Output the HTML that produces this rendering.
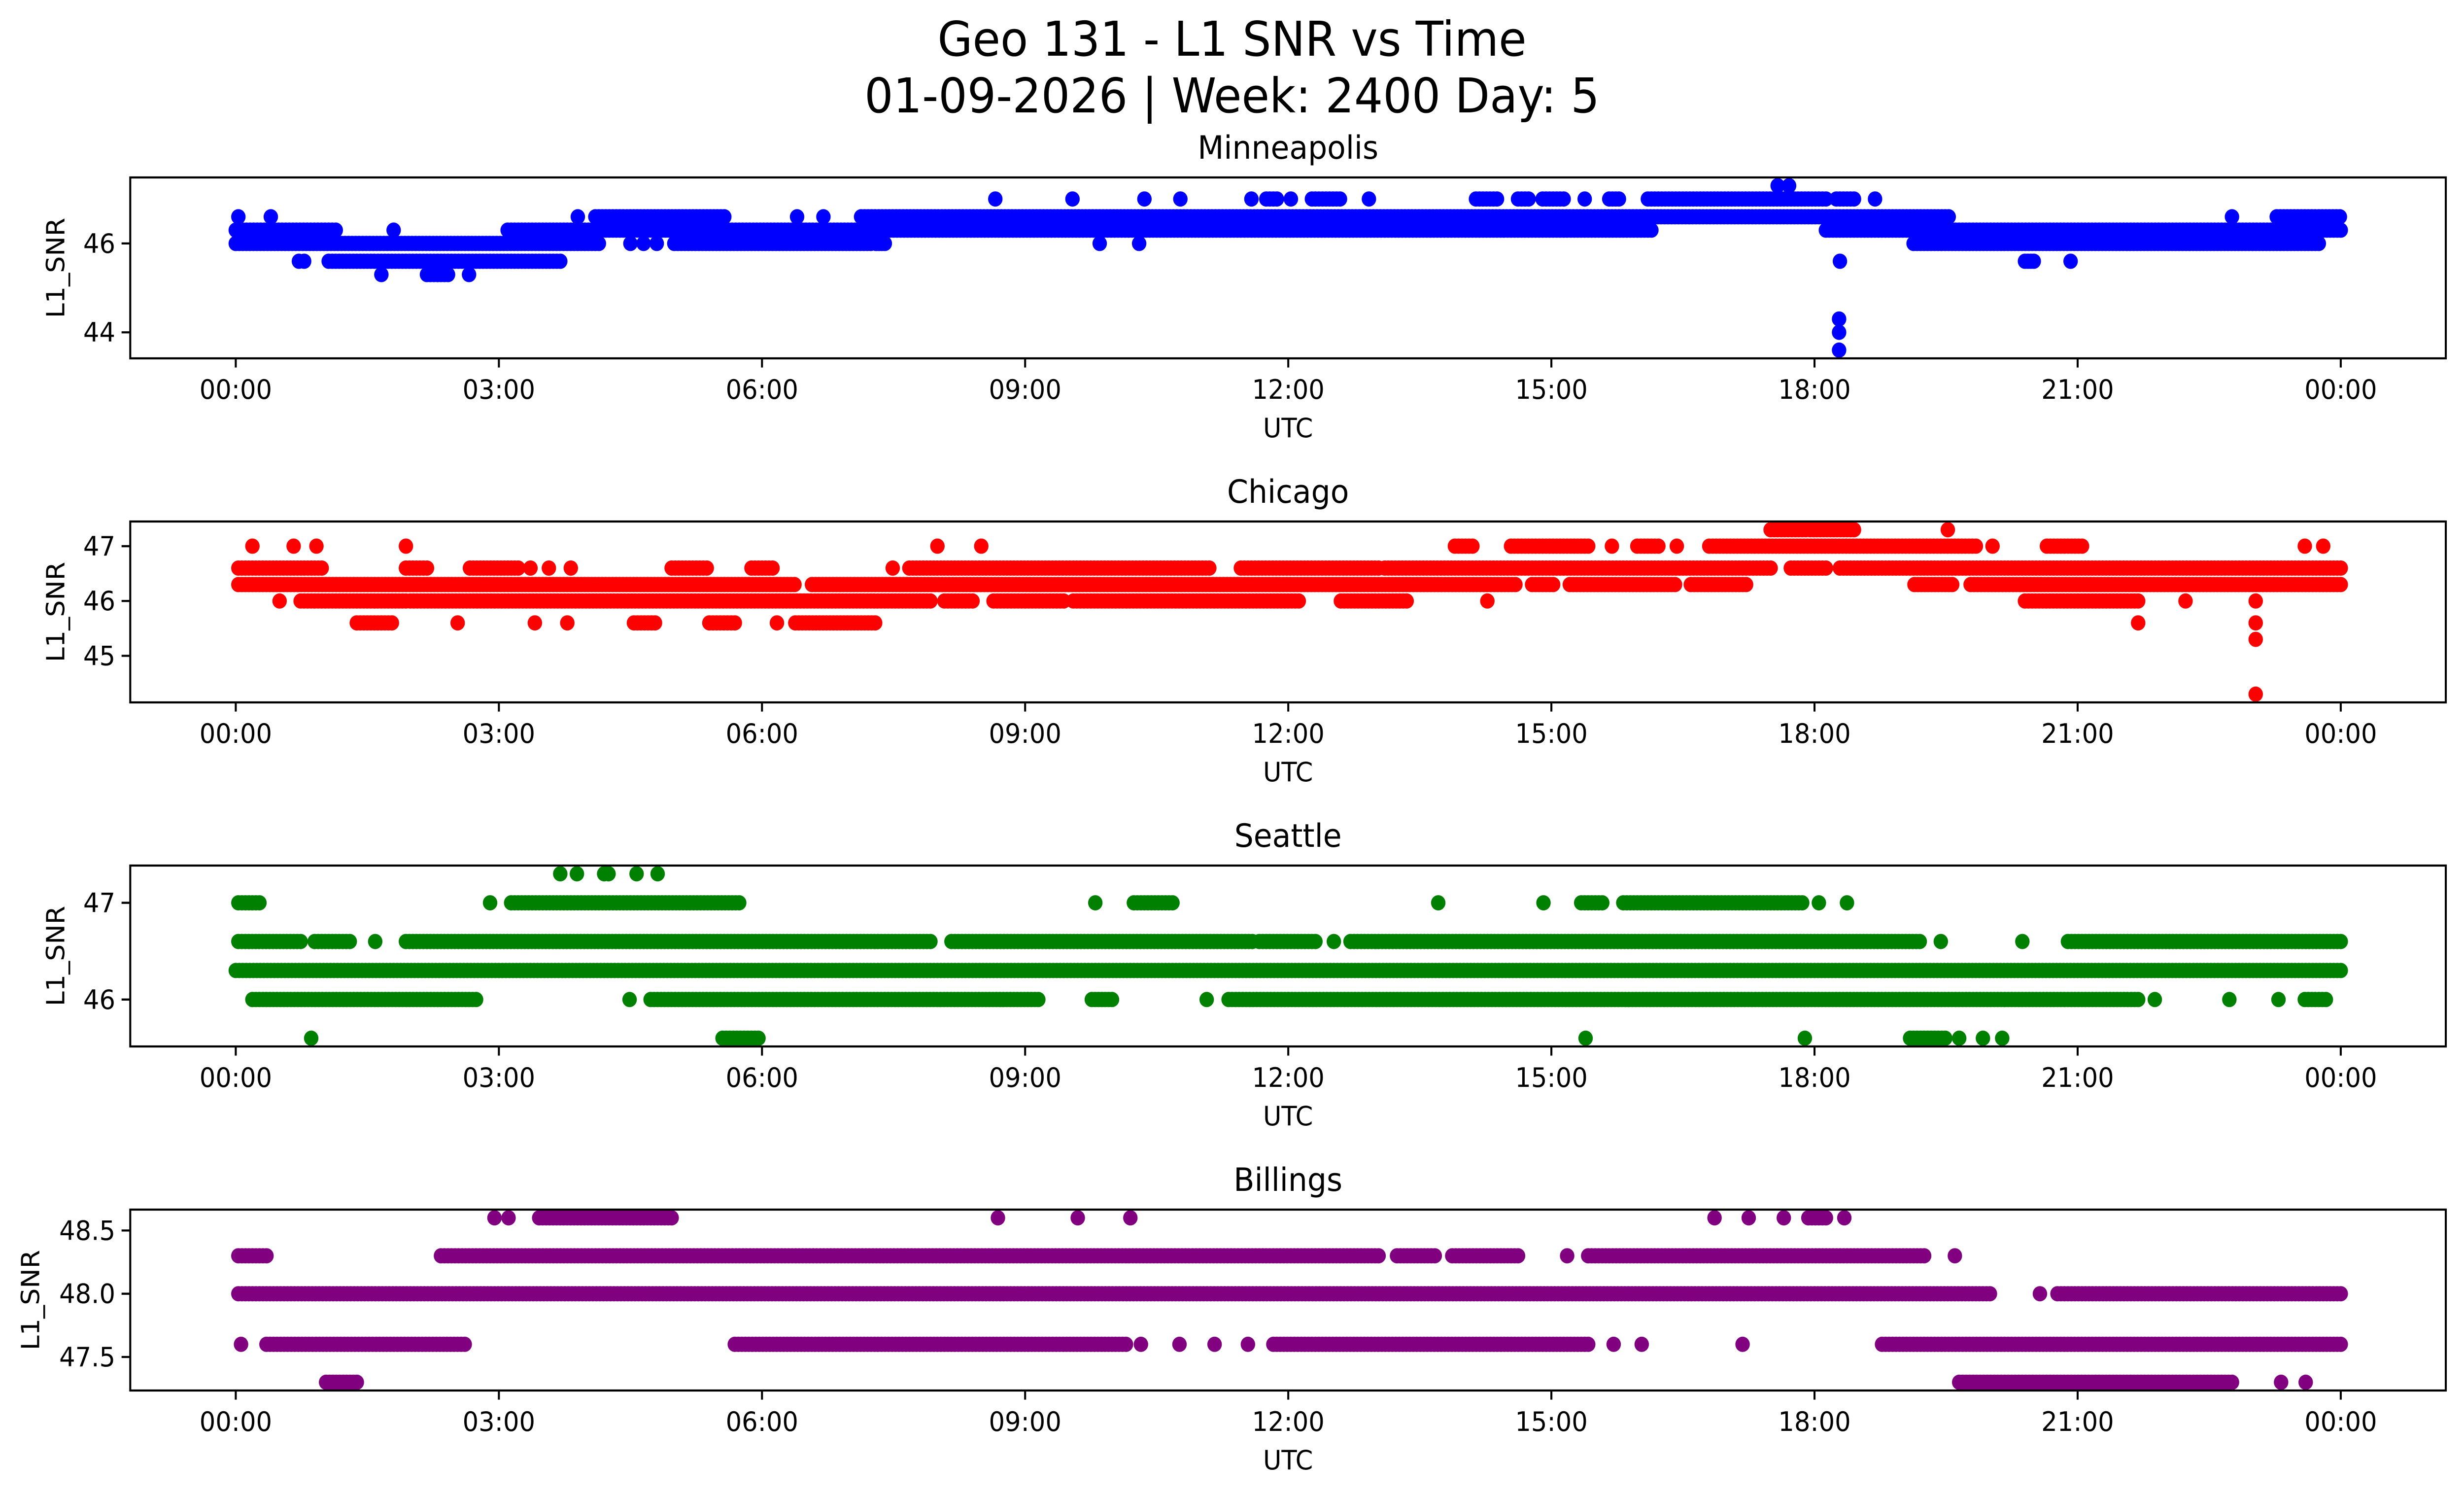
<!DOCTYPE html>
<html><head><meta charset="utf-8"><style>
html,body{margin:0;padding:0;background:#fff;overflow:hidden;width:100%;height:100%;}
svg{display:block;width:100vw;height:100vh;}
text{font-family:"DejaVu Sans","Liberation Sans",sans-serif;fill:#000;}
</style></head><body>
<svg id="fig" xmlns="http://www.w3.org/2000/svg" viewBox="0 0 5278 3033" preserveAspectRatio="none">
<rect width="5278" height="3033" fill="#fff"/>
<text x="2639" y="113" font-size="97" text-anchor="middle">Geo 131 - L1 SNR vs Time</text>
<text x="2639" y="228" font-size="97" text-anchor="middle">01-09-2026 | Week: 2400 Day: 5</text>
</svg>
<script>
// ---- data: [value, startHour, endHour] runs and single points [value, hour]
const hourTicks = [0,3,6,9,12,15,18,21,24];
const hourLabels = ["00:00","03:00","06:00","09:00","12:00","15:00","18:00","21:00","00:00"];

const minneapolisRuns = [
 [46.0,0,4.14],[46.0,5.0,7.24],[46.0,7.3,7.4],[46.0,19.13,23.75],
 [45.6,1.06,3.7],[45.3,2.18,2.42],
 [46.3,0,1.14],[46.3,3.1,16.14],[46.3,18.13,24],
 [46.6,4.1,5.57],[46.6,7.13,19.53],[46.6,23.27,23.99],
 [47.0,11.75,11.87],[47.0,12.27,12.59],[47.0,14.14,14.38],[47.0,14.62,14.74],[47.0,14.9,15.14],[47.0,15.66,15.77],[47.0,16.1,18.13],[47.0,18.25,18.45],
 [45.6,20.4,20.5]
];
const minneapolisPoints = [
 [46.0,4.5],[46.0,4.65],[46.0,4.8],[46.0,9.85],[46.0,10.3],
 [45.6,0.72],[45.6,0.78],[45.3,1.66],[45.3,2.66],[46.3,1.8],
 [46.6,0.03],[46.6,0.4],[46.6,3.9],[46.6,6.4],[46.6,6.7],[46.6,22.76],
 [47.0,8.66],[47.0,9.54],[47.0,10.36],[47.0,10.77],[47.0,11.58],[47.0,12.03],[47.0,12.92],[47.0,15.38],[47.0,18.69],
 [47.3,17.58],[47.3,17.71],[45.6,18.29],[45.6,20.92],
 [44.3,18.28],[44.0,18.28],[43.6,18.28]
];

const chicagoRuns = [
 [47.3,17.5,17.9],[47.3,17.95,18.45],
 [47.0,13.9,14.1],[47.0,14.54,15.42],[47.0,15.98,16.22],[47.0,16.8,19.84],[47.0,20.65,21.05],
 [46.6,0.03,0.98],[46.6,1.94,2.18],[46.6,2.67,3.22],[46.6,4.97,5.37],[46.6,5.88,6.12],[46.6,7.68,11.1],[46.6,11.46,13.03],[46.6,13.1,17.5],[46.6,17.73,18.13],[46.6,18.29,24],
 [46.3,0.03,6.37],[46.3,6.57,14.59],[46.3,14.78,15.02],[46.3,15.21,16.41],[46.3,16.59,17.22],[46.3,19.14,19.57],[46.3,19.78,24],
 [46.0,0.74,1.94],[46.0,1.99,7.92],[46.0,8.08,8.4],[46.0,8.64,9.44],[46.0,9.55,12.12],[46.0,12.6,13.35],[46.0,20.4,21.69],
 [45.6,1.38,1.78],[45.6,4.54,4.78],[45.6,5.4,5.69],[45.6,6.38,7.29]
];
const chicagoPoints = [
 [47.3,19.52],[47.0,0.19],[47.0,0.66],[47.0,0.92],[47.0,1.94],[47.0,8.0],[47.0,8.5],[47.0,15.69],[47.0,16.43],[47.0,20.03],[47.0,23.59],[47.0,23.8],
 [46.6,3.36],[46.6,3.57],[46.6,3.82],[46.6,7.49],
 [46.0,0.5],[46.0,14.27],[46.0,22.23],[46.0,23.03],
 [45.6,2.53],[45.6,3.41],[45.6,3.78],[45.6,6.17],[45.6,21.69],[45.6,23.03],
 [45.3,23.03],[44.3,23.03]
];

const seattleRuns = [
 [47.3,4.2,4.25],
 [47.0,0.03,0.27],[47.0,3.14,5.74],[47.0,10.24,10.68],[47.0,15.34,15.58],[47.0,15.82,17.86],
 [46.6,0.03,0.74],[46.6,0.9,1.3],[46.6,1.94,7.92],[46.6,8.16,11.59],[46.6,11.67,12.31],[46.6,12.71,19.2],[46.6,20.89,24],
 [46.3,0,24],
 [46.0,0.19,2.74],[46.0,4.73,9.15],[46.0,9.76,9.99],[46.0,11.32,21.69],[46.0,23.59,23.83],
 [45.6,5.55,5.96],[45.6,19.09,19.49]
];
const seattlePoints = [
 [47.3,3.7],[47.3,3.89],[47.3,4.57],[47.3,4.81],
 [47.0,2.9],[47.0,9.8],[47.0,13.71],[47.0,14.91],[47.0,18.05],[47.0,18.37],
 [46.6,1.59],[46.6,12.52],[46.6,19.44],[46.6,20.37],
 [46.0,4.49],[46.0,11.07],[46.0,21.88],[46.0,22.73],[46.0,23.29],
 [45.6,0.86],[45.6,15.39],[45.6,17.89],[45.6,19.65],[45.6,19.92],[45.6,20.14]
];

const billingsRuns = [
 [48.6,3.46,4.97],[48.6,17.93,18.13],
 [48.3,0.03,0.35],[48.3,2.34,13.03],[48.3,13.24,13.67],[48.3,13.87,14.62],[48.3,15.42,19.25],
 [48.0,0.03,20],[48.0,20.77,24],
 [47.6,0.35,2.61],[47.6,5.69,10.15],[47.6,11.83,15.42],[47.6,18.77,24],
 [47.3,1.03,1.38],[47.3,19.65,22.76]
];
const billingsPoints = [
 [48.6,2.95],[48.6,3.11],[48.6,8.69],[48.6,9.6],[48.6,10.2],[48.6,16.86],[48.6,17.25],[48.6,17.65],[48.6,18.34],
 [48.3,15.18],[48.3,19.6],[48.0,20.57],
 [47.6,0.06],[47.6,10.32],[47.6,10.76],[47.6,11.16],[47.6,11.54],[47.6,15.71],[47.6,16.03],[47.6,17.18],
 [47.3,23.32],[47.3,23.6]
];

const panelNames = ["Minneapolis","Chicago","Seattle","Billings"];
const panelColors = ["#0000ff","#ff0000","#008000","#800080"];
const panelYMin = [43.415,44.15,45.515,47.235];
const panelYMax = [47.485,47.45,47.385,48.665];
const panelYTicks = [[44,46],[45,46,47],[46,47],[47.5,48.0,48.5]];
const panelYTickLabels = [["44","46"],["45","46","47"],["46","47"],["47.5","48.0","48.5"]];
const panelRuns = [minneapolisRuns,chicagoRuns,seattleRuns,billingsRuns];
const panelPoints = [minneapolisPoints,chicagoPoints,seattlePoints,billingsPoints];

// ---- layout
const NS="http://www.w3.org/2000/svg";
const svg=document.getElementById("fig");
const L=279,R=5239,X0=505,PXH=(5014-505)/24,PH=367;
const tops=[360,1058,1756,2454];
const MR=15.5;
function xs(h){return X0+h*PXH;}
function mk(tag,attrs,parent){const e=document.createElementNS(NS,tag);for(const k in attrs)e.setAttribute(k,attrs[k]);(parent||svg).appendChild(e);return e;}

for(let p=0;p<4;p++){
  const top=tops[p],bot=top+PH,ymin=panelYMin[p],ymax=panelYMax[p];
  const ys=v=>bot-(v-ymin)/(ymax-ymin)*PH;
  const g=mk("g",{});
  
  
  const clip=mk("clipPath",{id:"c"+p},g);
  mk("rect",{x:L,y:top,width:R-L,height:PH},clip);
  const pts=mk("g",{"clip-path":"url(#c"+p+")",fill:panelColors[p]},g);
  
  
  for(const r of panelRuns[p]){
    const n=Math.max(1,Math.round((r[2]-r[1])/0.04));
    for(let i=0;i<=n;i++){
      const c=mk("circle",{cx:xs(r[1]+(r[2]-r[1])*i/n).toFixed(1),cy:ys(r[0]).toFixed(1),r:MR},pts);
      
      
    }
  }
  for(const q of panelPoints[p]){
    const c=mk("circle",{cx:xs(q[1]).toFixed(1),cy:ys(q[0]).toFixed(1),r:MR},pts);
    
    
  }
  const frame=mk("rect",{x:L,y:top,width:R-L,height:PH,fill:"none",stroke:"#000","stroke-width":4.3},g);
  
  
  hourTicks.forEach((h,i)=>{
    const x=xs(h);
    mk("line",{x1:x,x2:x,y1:bot,y2:bot+18.6,stroke:"#000","stroke-width":4.3},g);
    const t=mk("text",{x:x,y:bot+82,"font-size":54,"text-anchor":"middle"},g);
    t.textContent=hourLabels[i];
    
    
  });
  panelYTicks[p].forEach((v,i)=>{
    const y=ys(v);
    mk("line",{x1:L-18.6,x2:L,y1:y,y2:y,stroke:"#000","stroke-width":4.3},g);
    const t=mk("text",{x:L-32,y:y+19,"font-size":54,"text-anchor":"end"},g);
    t.textContent=panelYTickLabels[p][i];
    
    
  });
  const yl=(p===3)?66:120, ym=top+PH/2;
  const ylab=mk("text",{x:yl,y:ym,"font-size":54,"text-anchor":"middle","dominant-baseline":"central",transform:"rotate(-90 "+yl+" "+ym+")"},g);
  ylab.textContent="L1_SNR";
  
  
  const xl=mk("text",{x:(L+R)/2,y:bot+160,"font-size":54,"text-anchor":"middle"},g);
  xl.textContent="UTC";
  
  
  const tt=mk("text",{x:(L+R)/2,y:top-38,"font-size":65,"text-anchor":"middle"},g);
  tt.textContent=panelNames[p];
  
  
}
</script>
</body></html>
